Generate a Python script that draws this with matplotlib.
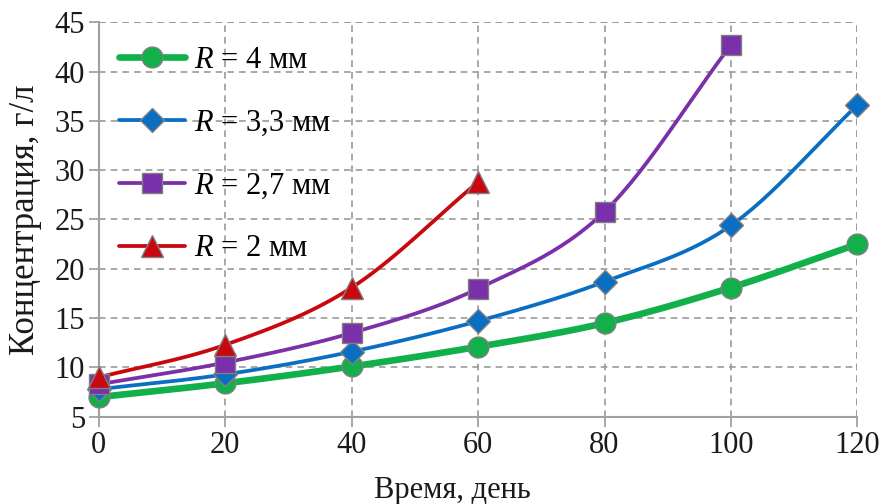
import numpy as np
import matplotlib
matplotlib.use("Agg")
import matplotlib.pyplot as plt

plt.rcParams['font.family'] = ['Liberation Serif', 'DejaVu Serif']
plt.rcParams['mathtext.fontset'] = 'custom'
plt.rcParams['mathtext.rm'] = 'Liberation Serif'
plt.rcParams['mathtext.it'] = 'Liberation Serif:italic'

# Time, days
days = [0, 20, 40, 60, 80, 100, 120]

# Concentration, g/l, for each grain radius
conc_r4 = [7.0, 8.4, 10.1, 12.1, 14.5, 18.1, 22.5]
conc_r33 = [7.8, 9.3, 11.6, 14.7, 18.7, 24.4, 36.6]
conc_r27 = [8.3, 10.5, 13.5, 18.0, 25.8, 42.7]
conc_r2 = [9.0, 12.3, 18.1, 28.8]

labels = ['$R$ = 4 мм', '$R$ = 3,3 мм', '$R$ = 2,7 мм', '$R$ = 2 мм']
x_ticks = [0, 20, 40, 60, 80, 100, 120]
y_ticks = [5, 10, 15, 20, 25, 30, 35, 40, 45]


def smooth(x, y, n=30):
    """Catmull-Rom spline through the given points."""
    x = np.asarray(x, float)
    y = np.asarray(y, float)
    px = np.concatenate([[2 * x[0] - x[1]], x, [2 * x[-1] - x[-2]]])
    py = np.concatenate([[2 * y[0] - y[1]], y, [2 * y[-1] - y[-2]]])
    xs, ys = [], []
    t = np.linspace(0, 1, n)
    for i in range(1, len(px) - 2):
        for arr, out in ((px, xs), (py, ys)):
            p0, p1, p2, p3 = arr[i - 1], arr[i], arr[i + 1], arr[i + 2]
            seg = 0.5 * ((2 * p1) + (-p0 + p2) * t
                         + (2 * p0 - 5 * p1 + 4 * p2 - p3) * t ** 2
                         + (-p0 + 3 * p1 - 3 * p2 + p3) * t ** 3)
            out.append(seg if not out else seg[1:])
    return np.concatenate(xs), np.concatenate(ys)


fig = plt.figure(figsize=(8.83, 5.04), dpi=100)
ax = fig.add_axes([0.112, 0.173, 0.859, 0.783])

series = [
    (conc_r4, '#12b04b', 'o', 4.8, 15),
    (conc_r33, '#0a6fc2', 'D', 2.7, 12),
    (conc_r27, '#7a30a8', 's', 2.7, 15),
    (conc_r2, '#c8080e', '^', 2.7, 16),
]

handles = []
for (vals, color, marker, lw, ms), lab in zip(series, labels):
    xv = days[:len(vals)]
    sx, sy = smooth(xv, vals)
    ax.plot(sx, sy, color=color, lw=lw, solid_capstyle='round', zorder=3,
            clip_on=False)
    ax.plot(xv, vals, linestyle='none', marker=marker, ms=ms, mfc=color,
            mec='#808080', mew=1.0, zorder=4, clip_on=False)
    h, = ax.plot([], [], color=color, lw=lw, marker=marker, ms=ms, mfc=color,
                 mec='#808080', mew=1.0, solid_capstyle='round', label=lab)
    handles.append(h)

ax.set_xlim(0, 120)
ax.set_ylim(5, 45)
ax.set_xticks(x_ticks)
ax.set_yticks(y_ticks)
ax.tick_params(axis='both', labelsize=22, colors='#999999', labelcolor='#1a1a1a',
               length=7, width=1.2, direction='out', pad=3)

ax.grid(True, color='#9a9a9a', lw=1.2, linestyle=(0, (4, 3)))
ax.set_axisbelow(True)
for side in ('top', 'right'):
    ax.spines[side].set_visible(False)
for side in ('left', 'bottom'):
    ax.spines[side].set_color('#a0a0a0')
    ax.spines[side].set_linewidth(1.5)
# dashed outline on the top and right edges
ax.axhline(45, color='#9a9a9a', lw=1.2, linestyle=(0, (4, 3)), zorder=1)
ax.axvline(120, color='#9a9a9a', lw=1.2, linestyle=(0, (4, 3)), zorder=1)

ax.set_xlabel('Время, день', fontsize=22, color='#1a1a1a', labelpad=12,
              x=0.466, ha='center')
ax.set_ylabel('Концентрация, г/л', fontsize=25, color='#1a1a1a', labelpad=9)

leg = ax.legend(handles=handles, loc='upper left', bbox_to_anchor=(0.027, 0.94),
                frameon=False, fontsize=22, handlelength=2.15,
                labelspacing=1.1, handletextpad=0.3, borderaxespad=0.0,
                borderpad=0.0)

fig.savefig('out.png', dpi=100)
